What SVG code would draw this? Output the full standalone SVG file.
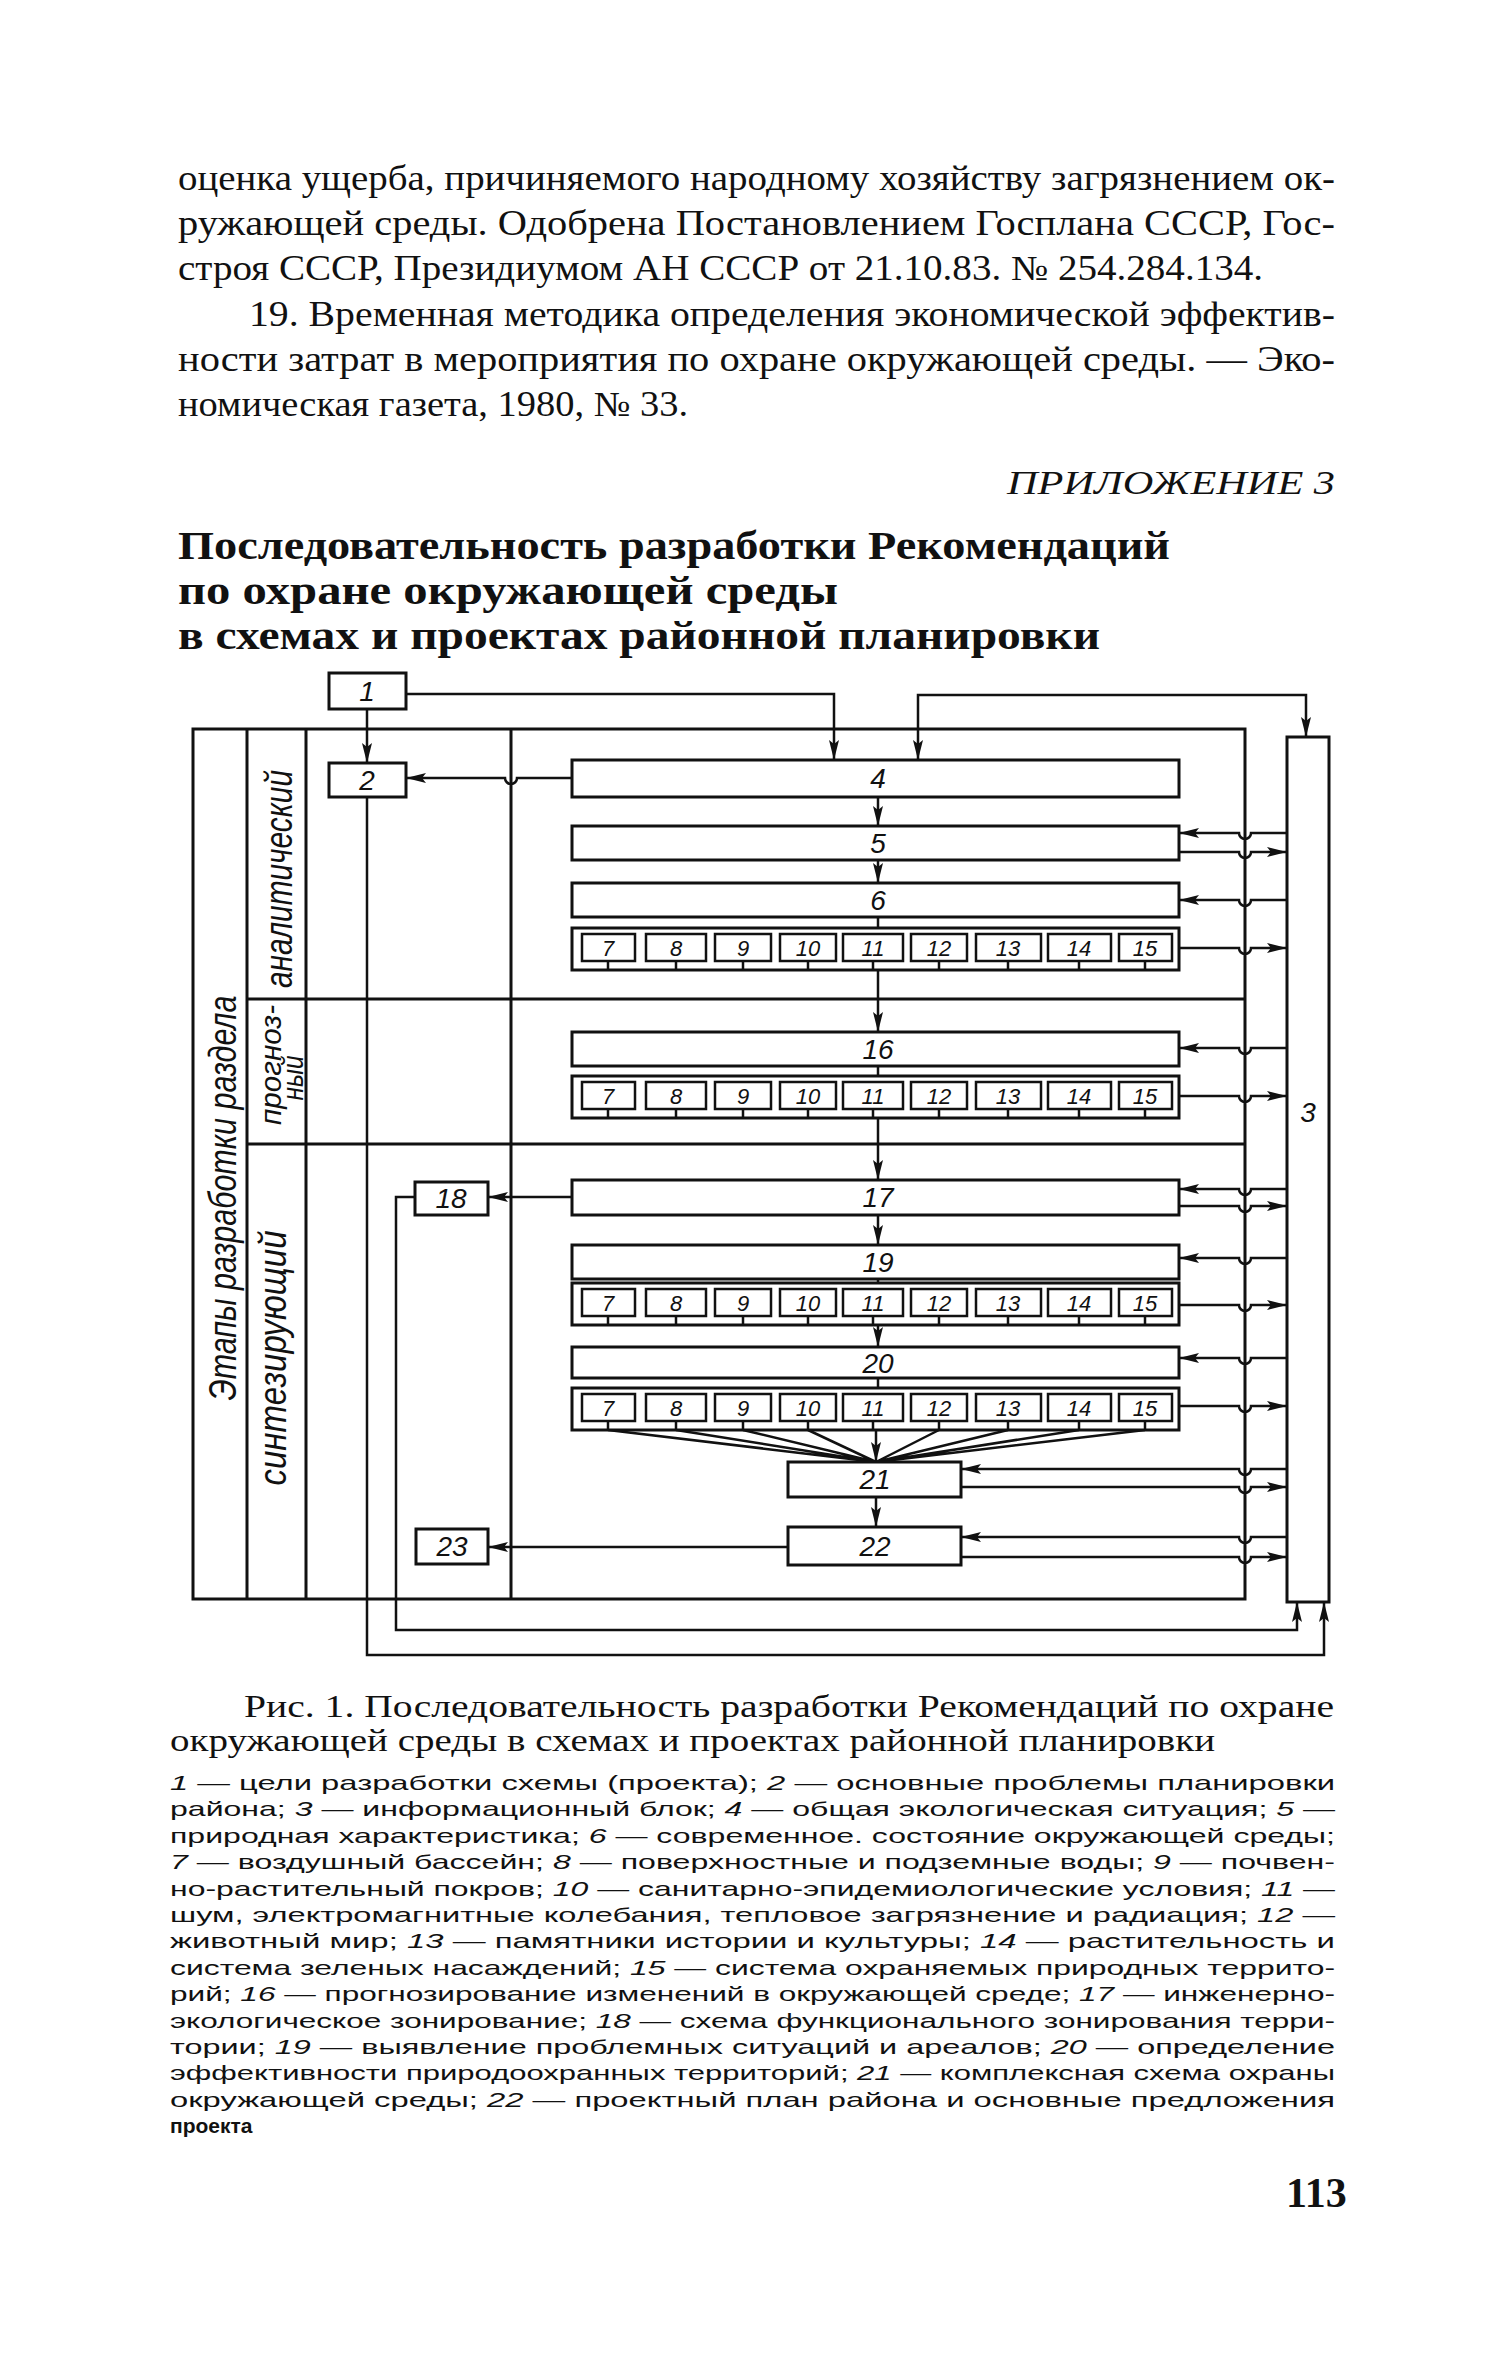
<svg xmlns="http://www.w3.org/2000/svg" width="1501" height="2363" viewBox="0 0 1501 2363">
<style>
.body{font-family:"Liberation Serif",serif;font-size:35px;fill:#111}
.title{font-family:"Liberation Serif",serif;font-weight:bold;font-size:39px;fill:#111}
.app{font-family:"Liberation Serif",serif;font-style:italic;font-size:34px;fill:#111}
.box{fill:#fff;stroke:#111;stroke-width:3}
.ibox{fill:#fff;stroke:#111;stroke-width:2.5}
.ln{fill:none;stroke:#111;stroke-width:2.5}
.fr{fill:none;stroke:#111;stroke-width:3}
.num{font-family:"Liberation Sans",sans-serif;font-style:italic;font-size:28px;text-anchor:middle;fill:#111}
.inum{font-family:"Liberation Sans",sans-serif;font-style:italic;font-size:22px;text-anchor:middle;fill:#111}
.stage{font-family:"Liberation Sans",sans-serif;font-style:italic;font-size:38px;text-anchor:middle;fill:#111}
.cap{font-family:"Liberation Serif",serif;font-size:31px;fill:#111}
.leg{font-family:"Liberation Sans",sans-serif;font-size:21px;fill:#111}
.it{font-style:italic}
.pg{font-family:"Liberation Serif",serif;font-weight:bold;font-size:42px;fill:#111}
</style>
<defs>
<marker id="ah" viewBox="0 0 20 10" refX="20" refY="5" markerWidth="20" markerHeight="10" markerUnits="userSpaceOnUse" orient="auto-start-reverse"><path d="M0,0 L20,5 L0,10 L4,5 z" fill="#111"/></marker>
</defs>
<rect width="1501" height="2363" fill="#fff"/>

<g id="text-top">
<text class="body" x="178" y="190" textLength="1157" lengthAdjust="spacingAndGlyphs">оценка ущерба, причиняемого народному хозяйству загрязнением ок-</text>
<text class="body" x="178" y="235" textLength="1157" lengthAdjust="spacingAndGlyphs">ружающей среды. Одобрена Постановлением Госплана СССР, Гос-</text>
<text class="body" x="178" y="280" textLength="1085" lengthAdjust="spacingAndGlyphs">строя СССР, Президиумом АН СССР от 21.10.83. № 254.284.134.</text>
<text class="body" x="249" y="326" textLength="1086" lengthAdjust="spacingAndGlyphs">19. Временная методика определения экономической эффектив-</text>
<text class="body" x="178" y="371" textLength="1157" lengthAdjust="spacingAndGlyphs">ности затрат в мероприятия по охране окружающей среды. — Эко-</text>
<text class="body" x="178" y="416" textLength="510" lengthAdjust="spacingAndGlyphs">номическая газета, 1980, № 33.</text>
<text class="app" x="1007" y="494" textLength="328" lengthAdjust="spacingAndGlyphs">ПРИЛОЖЕНИЕ 3</text>
<text class="title" x="178" y="559" textLength="992" lengthAdjust="spacingAndGlyphs">Последовательность разработки Рекомендаций</text>
<text class="title" x="178" y="604" textLength="660" lengthAdjust="spacingAndGlyphs">по охране окружающей среды</text>
<text class="title" x="178" y="649" textLength="922" lengthAdjust="spacingAndGlyphs">в схемах и проектах районной планировки</text>
</g>

<g id="frame">
<path class="fr" d="M193,729 H1245 V1599 H193 Z"/>
<path class="fr" d="M247,729 V1599 M306,729 V1599 M511,729 V1599"/>
<path class="fr" d="M247,999 H1245 M247,1144 H1245"/>
<text class="stage" transform="translate(236,1198) rotate(-90)" textLength="405" lengthAdjust="spacingAndGlyphs">Этапы разработки раздела</text>
<text class="stage" transform="translate(292,879) rotate(-90)" textLength="218" lengthAdjust="spacingAndGlyphs">аналитический</text>
<text class="stage" style="font-size:30px" transform="translate(281,1065) rotate(-90)" textLength="120" lengthAdjust="spacingAndGlyphs">прогноз-</text>
<text class="stage" style="font-size:30px" transform="translate(303,1078) rotate(-90)" textLength="45" lengthAdjust="spacingAndGlyphs">ный</text>
<text class="stage" transform="translate(286,1358) rotate(-90)" textLength="255" lengthAdjust="spacingAndGlyphs">синтезирующий</text>
</g>

<g id="connectors">
<path class="ln" d="M406,694 H834 V760" marker-end="url(#ah)"/>
<path class="ln" d="M918,760 V695 H1306 V737" marker-start="url(#ah)" marker-end="url(#ah)"/>
<path class="ln" d="M367,709 V763" marker-end="url(#ah)"/>
<path class="ln" d="M367,797 V1655 H1324 V1602" marker-end="url(#ah)"/>
<path class="ln" d="M572,778 H517 A6,6 0 0,1 505,778 H406" marker-end="url(#ah)"/>
<path class="ln" d="M878,797 V826" marker-end="url(#ah)"/>
<path class="ln" d="M878,860 V883" marker-end="url(#ah)"/>
<path class="ln" d="M878,917 V928"/>
<path class="ln" d="M878,970 V1032" marker-end="url(#ah)"/>
<path class="ln" d="M878,1066 V1076"/>
<path class="ln" d="M878,1118 V1180" marker-end="url(#ah)"/>
<path class="ln" d="M878,1215 V1245" marker-end="url(#ah)"/>
<path class="ln" d="M878,1279 V1283"/>
<path class="ln" d="M878,1325 V1347" marker-end="url(#ah)"/>
<path class="ln" d="M878,1378 V1388"/>
<path class="ln" d="M608,1430 L876,1462 M676,1430 L876,1462 M743,1430 L876,1462 M808,1430 L876,1462 M939,1430 L876,1462 M1008,1430 L876,1462 M1079,1430 L876,1462 M1145,1430 L876,1462"/>
<path class="ln" d="M876,1430 V1462" marker-end="url(#ah)"/>
<path class="ln" d="M876,1497 V1527" marker-end="url(#ah)"/>
<path class="ln" d="M572,1197 H488" marker-end="url(#ah)"/>
<path class="ln" d="M415,1197 H396 V1630 H1297 V1602" marker-end="url(#ah)"/>
<path class="ln" d="M788,1547 H488" marker-end="url(#ah)"/>
<path class="ln" d="M1287,833 H1251 A6,6 0 0,1 1239,833 H1179" marker-end="url(#ah)"/>
<path class="ln" d="M1287,900 H1251 A6,6 0 0,1 1239,900 H1179" marker-end="url(#ah)"/>
<path class="ln" d="M1287,1048 H1251 A6,6 0 0,1 1239,1048 H1179" marker-end="url(#ah)"/>
<path class="ln" d="M1287,1189 H1251 A6,6 0 0,1 1239,1189 H1179" marker-end="url(#ah)"/>
<path class="ln" d="M1287,1258 H1251 A6,6 0 0,1 1239,1258 H1179" marker-end="url(#ah)"/>
<path class="ln" d="M1287,1358 H1251 A6,6 0 0,1 1239,1358 H1179" marker-end="url(#ah)"/>
<path class="ln" d="M1287,1469 H1251 A6,6 0 0,1 1239,1469 H961" marker-end="url(#ah)"/>
<path class="ln" d="M1287,1537 H1251 A6,6 0 0,1 1239,1537 H961" marker-end="url(#ah)"/>
<path class="ln" d="M1179,852 H1239 A6,6 0 0,0 1251,852 H1287" marker-end="url(#ah)"/>
<path class="ln" d="M1179,948 H1239 A6,6 0 0,0 1251,948 H1287" marker-end="url(#ah)"/>
<path class="ln" d="M1179,1096 H1239 A6,6 0 0,0 1251,1096 H1287" marker-end="url(#ah)"/>
<path class="ln" d="M1179,1206 H1239 A6,6 0 0,0 1251,1206 H1287" marker-end="url(#ah)"/>
<path class="ln" d="M1179,1305 H1239 A6,6 0 0,0 1251,1305 H1287" marker-end="url(#ah)"/>
<path class="ln" d="M1179,1406 H1239 A6,6 0 0,0 1251,1406 H1287" marker-end="url(#ah)"/>
<path class="ln" d="M961,1487 H1239 A6,6 0 0,0 1251,1487 H1287" marker-end="url(#ah)"/>
<path class="ln" d="M961,1557 H1239 A6,6 0 0,0 1251,1557 H1287" marker-end="url(#ah)"/>
</g>

<g id="n1"><rect class="box" x="329" y="673" width="77" height="36"/><text class="num" x="367" y="701">1</text></g>
<g id="n2"><rect class="box" x="329" y="763" width="77" height="34"/><text class="num" x="367" y="790">2</text></g>
<g id="n3"><rect class="box" x="1287" y="737" width="42" height="865"/><text class="num" x="1308" y="1122">3</text></g>
<g id="n4"><rect class="box" x="572" y="760" width="607" height="37"/><text class="num" x="878" y="788">4</text></g>
<g id="n5"><rect class="box" x="572" y="826" width="607" height="34"/><text class="num" x="878" y="853">5</text></g>
<g id="n6"><rect class="box" x="572" y="883" width="607" height="34"/><text class="num" x="878" y="910">6</text></g>

<g id="row1">
<rect class="box" x="572" y="928" width="607" height="42"/>
<rect class="ibox" x="582" y="934" width="53" height="27"/><rect class="ibox" x="646" y="934" width="60" height="27"/><rect class="ibox" x="715" y="934" width="56" height="27"/><rect class="ibox" x="780" y="934" width="56" height="27"/><rect class="ibox" x="843" y="934" width="60" height="27"/><rect class="ibox" x="911" y="934" width="56" height="27"/><rect class="ibox" x="976" y="934" width="65" height="27"/><rect class="ibox" x="1048" y="934" width="63" height="27"/><rect class="ibox" x="1119" y="934" width="53" height="27"/>
<path class="ln" d="M608,961 V970 M676,961 V970 M743,961 V970 M808,961 V970 M873,961 V970 M939,961 V970 M1008,961 V970 M1079,961 V970 M1145,961 V970"/>
<text class="inum" x="608" y="956">7</text><text class="inum" x="676" y="956">8</text><text class="inum" x="743" y="956">9</text><text class="inum" x="808" y="956">10</text><text class="inum" x="873" y="956">11</text><text class="inum" x="939" y="956">12</text><text class="inum" x="1008" y="956">13</text><text class="inum" x="1079" y="956">14</text><text class="inum" x="1145" y="956">15</text>
</g>

<g id="n16"><rect class="box" x="572" y="1032" width="607" height="34"/><text class="num" x="878" y="1059">16</text></g>

<g id="row2">
<rect class="box" x="572" y="1076" width="607" height="42"/>
<rect class="ibox" x="582" y="1082" width="53" height="27"/><rect class="ibox" x="646" y="1082" width="60" height="27"/><rect class="ibox" x="715" y="1082" width="56" height="27"/><rect class="ibox" x="780" y="1082" width="56" height="27"/><rect class="ibox" x="843" y="1082" width="60" height="27"/><rect class="ibox" x="911" y="1082" width="56" height="27"/><rect class="ibox" x="976" y="1082" width="65" height="27"/><rect class="ibox" x="1048" y="1082" width="63" height="27"/><rect class="ibox" x="1119" y="1082" width="53" height="27"/>
<path class="ln" d="M608,1109 V1118 M676,1109 V1118 M743,1109 V1118 M808,1109 V1118 M873,1109 V1118 M939,1109 V1118 M1008,1109 V1118 M1079,1109 V1118 M1145,1109 V1118"/>
<text class="inum" x="608" y="1104">7</text><text class="inum" x="676" y="1104">8</text><text class="inum" x="743" y="1104">9</text><text class="inum" x="808" y="1104">10</text><text class="inum" x="873" y="1104">11</text><text class="inum" x="939" y="1104">12</text><text class="inum" x="1008" y="1104">13</text><text class="inum" x="1079" y="1104">14</text><text class="inum" x="1145" y="1104">15</text>
</g>

<g id="n17"><rect class="box" x="572" y="1180" width="607" height="35"/><text class="num" x="878" y="1207">17</text></g>
<g id="n18"><rect class="box" x="415" y="1182" width="73" height="33"/><text class="num" x="451" y="1208">18</text></g>
<g id="n19"><rect class="box" x="572" y="1245" width="607" height="34"/><text class="num" x="878" y="1272">19</text></g>

<g id="row3">
<rect class="box" x="572" y="1283" width="607" height="42"/>
<rect class="ibox" x="582" y="1289" width="53" height="27"/><rect class="ibox" x="646" y="1289" width="60" height="27"/><rect class="ibox" x="715" y="1289" width="56" height="27"/><rect class="ibox" x="780" y="1289" width="56" height="27"/><rect class="ibox" x="843" y="1289" width="60" height="27"/><rect class="ibox" x="911" y="1289" width="56" height="27"/><rect class="ibox" x="976" y="1289" width="65" height="27"/><rect class="ibox" x="1048" y="1289" width="63" height="27"/><rect class="ibox" x="1119" y="1289" width="53" height="27"/>
<path class="ln" d="M608,1316 V1325 M676,1316 V1325 M743,1316 V1325 M808,1316 V1325 M873,1316 V1325 M939,1316 V1325 M1008,1316 V1325 M1079,1316 V1325 M1145,1316 V1325"/>
<text class="inum" x="608" y="1311">7</text><text class="inum" x="676" y="1311">8</text><text class="inum" x="743" y="1311">9</text><text class="inum" x="808" y="1311">10</text><text class="inum" x="873" y="1311">11</text><text class="inum" x="939" y="1311">12</text><text class="inum" x="1008" y="1311">13</text><text class="inum" x="1079" y="1311">14</text><text class="inum" x="1145" y="1311">15</text>
</g>

<g id="n20"><rect class="box" x="572" y="1347" width="607" height="31"/><text class="num" x="878" y="1373">20</text></g>

<g id="row4">
<rect class="box" x="572" y="1388" width="607" height="42"/>
<rect class="ibox" x="582" y="1394" width="53" height="27"/><rect class="ibox" x="646" y="1394" width="60" height="27"/><rect class="ibox" x="715" y="1394" width="56" height="27"/><rect class="ibox" x="780" y="1394" width="56" height="27"/><rect class="ibox" x="843" y="1394" width="60" height="27"/><rect class="ibox" x="911" y="1394" width="56" height="27"/><rect class="ibox" x="976" y="1394" width="65" height="27"/><rect class="ibox" x="1048" y="1394" width="63" height="27"/><rect class="ibox" x="1119" y="1394" width="53" height="27"/>
<path class="ln" d="M608,1421 V1430 M676,1421 V1430 M743,1421 V1430 M808,1421 V1430 M873,1421 V1430 M939,1421 V1430 M1008,1421 V1430 M1079,1421 V1430 M1145,1421 V1430"/>
<text class="inum" x="608" y="1416">7</text><text class="inum" x="676" y="1416">8</text><text class="inum" x="743" y="1416">9</text><text class="inum" x="808" y="1416">10</text><text class="inum" x="873" y="1416">11</text><text class="inum" x="939" y="1416">12</text><text class="inum" x="1008" y="1416">13</text><text class="inum" x="1079" y="1416">14</text><text class="inum" x="1145" y="1416">15</text>
</g>

<g id="n21"><rect class="box" x="788" y="1462" width="173" height="35"/><text class="num" x="875" y="1489">21</text></g>
<g id="n22"><rect class="box" x="788" y="1527" width="173" height="38"/><text class="num" x="875" y="1556">22</text></g>
<g id="n23"><rect class="box" x="416" y="1529" width="72" height="35"/><text class="num" x="452" y="1556">23</text></g>

<g id="caption">
<text class="cap" x="244" y="1717" textLength="1090" lengthAdjust="spacingAndGlyphs">Рис. 1. Последовательность разработки Рекомендаций по охране</text>
<text class="cap" x="170" y="1751" textLength="1045" lengthAdjust="spacingAndGlyphs">окружающей среды в схемах и проектах районной планировки</text>
</g>

<g id="legend">
<text class="leg" x="170" y="1790" textLength="1165" lengthAdjust="spacingAndGlyphs"><tspan class="it">1</tspan> — цели разработки схемы (проекта); <tspan class="it">2</tspan> — основные проблемы планировки</text>
<text class="leg" x="170" y="1816" textLength="1165" lengthAdjust="spacingAndGlyphs">района; <tspan class="it">3</tspan> — информационный блок; <tspan class="it">4</tspan> — общая экологическая ситуация; <tspan class="it">5</tspan> —</text>
<text class="leg" x="170" y="1843" textLength="1165" lengthAdjust="spacingAndGlyphs">природная характеристика; <tspan class="it">6</tspan> — современное. состояние окружающей среды;</text>
<text class="leg" x="170" y="1869" textLength="1165" lengthAdjust="spacingAndGlyphs"><tspan class="it">7</tspan> — воздушный бассейн; <tspan class="it">8</tspan> — поверхностные и подземные воды; <tspan class="it">9</tspan> — почвен-</text>
<text class="leg" x="170" y="1896" textLength="1165" lengthAdjust="spacingAndGlyphs">но-растительный покров; <tspan class="it">10</tspan> — санитарно-эпидемиологические условия; <tspan class="it">11</tspan> —</text>
<text class="leg" x="170" y="1922" textLength="1165" lengthAdjust="spacingAndGlyphs">шум, электромагнитные колебания, тепловое загрязнение и радиация; <tspan class="it">12</tspan> —</text>
<text class="leg" x="170" y="1948" textLength="1165" lengthAdjust="spacingAndGlyphs">животный мир; <tspan class="it">13</tspan> — памятники истории и культуры; <tspan class="it">14</tspan> — растительность и</text>
<text class="leg" x="170" y="1975" textLength="1165" lengthAdjust="spacingAndGlyphs">система зеленых насаждений; <tspan class="it">15</tspan> — система охраняемых природных террито-</text>
<text class="leg" x="170" y="2001" textLength="1165" lengthAdjust="spacingAndGlyphs">рий; <tspan class="it">16</tspan> — прогнозирование изменений в окружающей среде; <tspan class="it">17</tspan> — инженерно-</text>
<text class="leg" x="170" y="2028" textLength="1165" lengthAdjust="spacingAndGlyphs">экологическое зонирование; <tspan class="it">18</tspan> — схема функционального зонирования терри-</text>
<text class="leg" x="170" y="2054" textLength="1165" lengthAdjust="spacingAndGlyphs">тории; <tspan class="it">19</tspan> — выявление проблемных ситуаций и ареалов; <tspan class="it">20</tspan> — определение</text>
<text class="leg" x="170" y="2080" textLength="1165" lengthAdjust="spacingAndGlyphs">эффективности природоохранных территорий; <tspan class="it">21</tspan> — комплексная схема охраны</text>
<text class="leg" x="170" y="2107" textLength="1165" lengthAdjust="spacingAndGlyphs">окружающей среды; <tspan class="it">22</tspan> — проектный план района и основные предложения</text>
<text class="leg" x="170" y="2133" style="font-weight:bold">проекта</text>
</g>

<text class="pg" x="1286" y="2207">113</text>
</svg>
